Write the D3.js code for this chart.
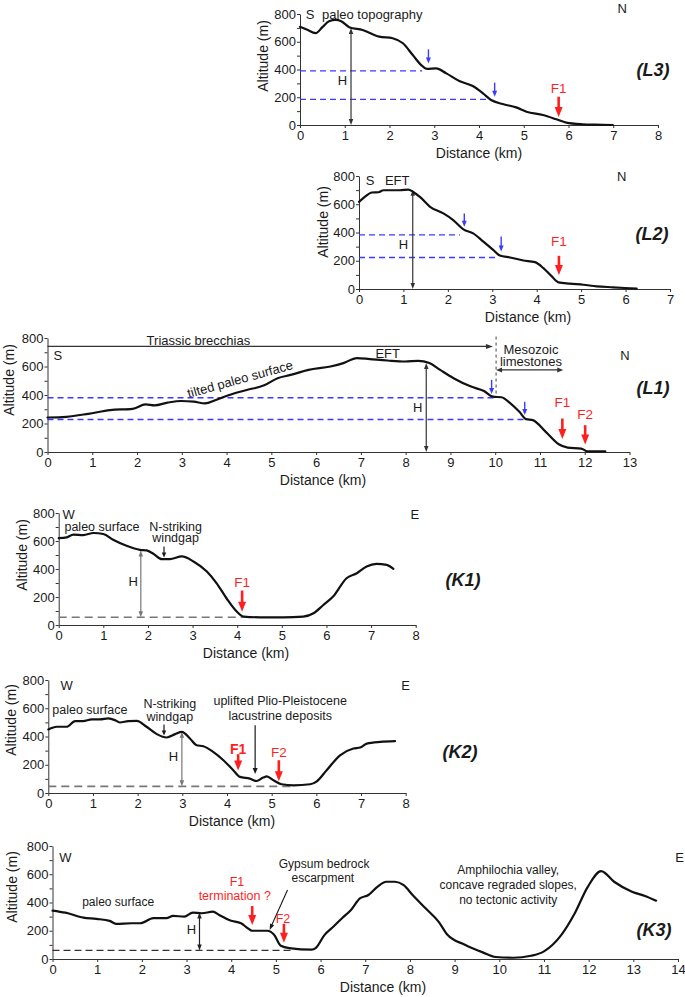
<!DOCTYPE html>
<html><head><meta charset="utf-8">
<script src="https://cdn.jsdelivr.net/npm/d3@7"></script>
<style>
body{margin:0;background:#fff}
svg{display:block}
text{font-family:"Liberation Sans",Arial,Helvetica,sans-serif}
</style>
</head><body>
<script>
// ---------------- DATA ----------------
const altTicks = [0, 200, 400, 600, 800];

const l3Dist = [0,0.15,0.35,0.5,0.65,0.8,0.92,1.1,1.4,1.77,2.07,2.3,2.52,2.71,2.84,3.04,3.27,3.56,3.86,4.09,4.27,4.53,4.83,5.06,5.43,5.73,5.95,6.32,6.6,6.99];
const l3Alt  = [708,688,662,705,748,757,748,705,685,637,625,589,504,432,404,408,372,317,281,228,180,151,127,96,72,41,17,5,2,0];

const l2Dist = [0,0.13,0.29,0.44,0.55,0.7,0.92,1.11,1.22,1.37,1.6,1.9,2.12,2.35,2.57,2.8,3.02,3.17,3.4,3.7,3.96,4.15,4.34,4.49,4.75,5.05,5.35,5.72,6.25];
const l2Alt  = [617,652,683,685,699,699,699,704,687,652,582,535,488,422,394,335,277,237,223,202,190,148,89,47,38,30,19,12,2];

const l1Dist = [0,0.42,0.91,1.4,1.9,2.19,2.39,2.68,2.98,3.27,3.52,3.76,4.06,4.45,4.84,5.14,5.43,5.83,6.32,6.61,6.91,7.2,7.59,7.99,8.28,8.53,8.77,9.07,9.46,9.75,9.95,10.14,10.34,10.54,10.69,10.84,11.13,11.42,11.62,11.92,12.06,12.46];
const l1Alt  = [242,247,268,294,303,334,327,346,358,353,341,365,400,435,468,518,541,576,600,624,659,652,642,635,640,624,576,518,459,428,388,384,341,282,231,224,141,54,31,24,5,5];

const k1Dist = [0,0.18,0.33,0.55,0.78,1.0,1.22,1.52,1.82,1.97,2.12,2.31,2.49,2.76,3.02,3.32,3.54,3.76,3.99,4.14,4.51,5.03,5.48,5.71,5.93,6.15,6.45,6.68,6.9,7.12,7.35,7.5];
const k1Alt  = [620,626,645,642,657,650,609,566,537,533,509,470,470,490,454,382,298,191,96,60,55,55,60,84,143,203,334,370,418,437,430,401];

const k2Dist = [0,0.19,0.41,0.6,0.78,0.97,1.16,1.34,1.49,1.6,1.79,1.98,2.2,2.43,2.65,2.84,2.99,3.17,3.32,3.47,3.69,3.92,4.14,4.29,4.51,4.66,4.81,4.89,5.04,5.22,5.49,5.86,6.01,6.23,6.53,6.83,6.98,7.13,7.43,7.76];
const k2Alt  = [450,469,469,509,509,521,521,528,516,499,509,511,469,417,393,417,433,386,338,331,291,232,161,114,102,85,109,118,90,62,54,62,83,161,267,315,322,350,362,367];

const k3Dist = [0,0.29,0.69,0.98,1.28,1.42,1.77,1.96,2.26,2.55,2.7,2.95,3.14,3.34,3.59,3.73,3.98,4.22,4.37,4.47,4.81,4.96,5.11,5.3,5.8,5.89,6.09,6.29,6.48,6.68,6.88,7.07,7.27,7.47,7.66,7.86,8.06,8.35,8.64,8.84,9.23,9.63,9.92,10.31,10.71,11.0,11.39,11.69,11.98,12.28,12.57,12.97,13.26,13.51];
const k3Alt  = [343,328,293,284,270,249,253,253,289,289,305,300,328,324,335,312,272,253,218,200,200,171,94,77,66,77,171,230,289,347,429,453,511,547,547,523,453,359,265,171,101,47,14,9,23,54,171,324,511,622,547,476,446,413];

// ---------------- DRAWING ----------------
const svg = d3.select("body").append("svg").attr("width",685).attr("height",997);
const INK = "#1a1a1a";
const RED = "#ff1f1f";
const BLUE = "#3b3bff";

function makePanel(p){
  const x = d3.scaleLinear().domain([0,p.xMax]).range([p.left,p.right]);
  const y = d3.scaleLinear().domain([0,800]).range([p.bottom,p.top]);
  const g = svg.append("g");
  const ax = g.append("g").attr("transform",`translate(0,${p.bottom})`)
    .call(d3.axisBottom(x).tickValues(d3.range(0,p.xMax+1)).tickFormat(d3.format("d"))
      .tickSize(3).tickSizeOuter(0).tickPadding(3));
  const ay = g.append("g").attr("transform",`translate(${p.left},0)`)
    .call(d3.axisLeft(y).tickValues(d3.range(0,801,100)).tickSize(3).tickSizeOuter(0).tickPadding(1)
      .tickFormat(d => altTicks.includes(d) ? d : ""));
  [ax,ay].forEach(a=>{
    a.selectAll("path,line").attr("stroke","#333").attr("stroke-width",1);
    a.selectAll("text").attr("font-size",13).attr("fill",INK).attr("font-family",'"Liberation Sans",Arial,sans-serif');
  });
  g.append("text").attr("x",p.xLabelX).attr("y",p.bottom+28).attr("dy","0.35em")
    .attr("text-anchor","middle").attr("font-size",14).attr("fill",INK).text("Distance (km)");
  g.append("text").attr("transform",`translate(${p.yLabelX},${p.yLabelY}) rotate(-90)`).attr("dy","0.35em")
    .attr("text-anchor","middle").attr("font-size",14).attr("fill",INK).text("Altitude (m)");
  return {g,x,y,p};
}

function drawProfile(P, dist, alt){
  const line = d3.line().x((d,i)=>P.x(dist[i])).y((d,i)=>P.y(alt[i])).curve(d3.curveMonotoneX);
  P.g.append("path").datum(dist).attr("d",line).attr("fill","none")
    .attr("stroke","#111").attr("stroke-width",2.2).attr("stroke-linejoin","round").attr("stroke-linecap","round");
}

function txt(P, xv, yv, s, o={}){
  const t = P.g.append("text").attr("x",P.x(xv)).attr("y",P.y(yv)).attr("dy","0.35em")
    .attr("text-anchor",o.anchor||"middle").attr("font-size",o.size||12.5).attr("fill",o.color||INK)
    .attr("font-weight",o.weight||"normal").attr("font-style",o.style||"normal").text(s);
  if(o.rotate!==undefined) t.attr("transform",`rotate(${o.rotate},${P.x(xv)},${P.y(yv)})`);
  return t;
}

function arrowPx(g, x1,y1,x2,y2, o={}){
  const color=o.color||INK, w=o.w||1.2, hl=o.hl||6, hw=o.hw||5, both=!!o.both;
  const dx=x2-x1, dy=y2-y1, L=Math.hypot(dx,dy), ux=dx/L, uy=dy/L;
  const sx1 = both? x1+ux*(hl-1):x1, sy1 = both? y1+uy*(hl-1):y1;
  const sx2 = x2-ux*(hl-1), sy2 = y2-uy*(hl-1);
  g.append("line").attr("x1",sx1).attr("y1",sy1).attr("x2",sx2).attr("y2",sy2)
    .attr("stroke",color).attr("stroke-width",w);
  const head=(hx,hy,vx,vy)=>{
    const bx=hx-vx*hl, by=hy-vy*hl;
    g.append("polygon").attr("points",
      `${hx},${hy} ${bx-vy*hw/2},${by+vx*hw/2} ${bx+vy*hw/2},${by-vx*hw/2}`).attr("fill",color);
  };
  head(x2,y2,ux,uy);
  if(both) head(x1,y1,-ux,-uy);
}
function arrow(P, x1,y1,x2,y2,o){ arrowPx(P.g,P.x(x1),P.y(y1),P.x(x2),P.y(y2),o); }

function hdash(P, x1, x2, yv, o={}){
  P.g.append("line").attr("x1",P.x(x1)).attr("x2",P.x(x2)).attr("y1",P.y(yv)).attr("y2",P.y(yv))
    .attr("stroke",o.color||BLUE).attr("stroke-width",o.w||1.4).attr("stroke-dasharray",o.dash||"6,4");
}
function redArrow(P, xv, y1, y2){ arrow(P,xv,y1,xv,y2,{color:RED,w:2.6,hl:10,hw:8}); }
function blueArrow(P, xv, y1, y2){ arrow(P,xv,y1,xv,y2,{color:BLUE,w:1.4,hl:6,hw:5}); }
function hArrow(P, xv, y1, y2, color){ arrow(P,xv,y2,xv,y1,{color:color||"#333",w:1.2,hl:6,hw:4.5,both:true}); }
function panelLabel(P, px, py, s){
  P.g.append("text").attr("x",px).attr("y",py).attr("dy","0.35em").attr("text-anchor","middle")
    .attr("font-size",18).attr("font-weight","bold").attr("font-style","italic").attr("fill",INK).text(s);
}

// ---- L3 ----
{
  const P = makePanel({left:300,right:658,bottom:125,top:14,xMax:8,xLabelX:479,yLabelX:263,yLabelY:56});
  hdash(P,0,2.73,390); hdash(P,0,4.2,185);
  hArrow(P,1.14,0,700);
  txt(P,0.95,318,"H",{size:13});
  drawProfile(P,l3Dist,l3Alt);
  blueArrow(P,2.87,545,444); blueArrow(P,4.35,305,204);
  redArrow(P,5.78,204,58);
  txt(P,5.78,266,"F1",{color:RED,size:13.5});
  txt(P,0.13,800,"S",{anchor:"start",size:13});
  txt(P,0.49,800,"paleo topography",{anchor:"start",size:13});
  txt(P,7.2,840,"N",{size:13});
  panelLabel(P,653,70,"(L3)");
}
// ---- L2 ----
{
  const P = makePanel({left:359,right:670,bottom:289,top:176,xMax:7,xLabelX:528,yLabelX:323,yLabelY:222});
  hdash(P,0,2.27,383); hdash(P,0,3.14,223);
  hArrow(P,1.21,0,702);
  txt(P,1.0,312,"H",{size:13});
  drawProfile(P,l2Dist,l2Alt);
  blueArrow(P,2.37,535,441); blueArrow(P,3.2,371,265);
  redArrow(P,4.5,235,100);
  txt(P,4.5,335,"F1",{color:RED,size:13.5});
  txt(P,0.25,765,"S",{size:13});
  txt(P,0.86,765,"EFT",{size:13});
  txt(P,5.91,798,"N",{size:13});
  panelLabel(P,652,234,"(L2)");
}
// ---- L1 ----
{
  const P = makePanel({left:47.5,right:629.5,bottom:452,top:338,xMax:13,xLabelX:323,yLabelX:9,yLabelY:380});
  arrow(P,0,741,9.95,741,{color:"#333",w:1.3,hl:7,hw:5});
  txt(P,3.37,784,"Triassic brecchias",{size:13});
  P.g.append("line").attr("x1",P.x(10.02)).attr("x2",P.x(10.02)).attr("y1",P.y(810)).attr("y2",P.y(400))
    .attr("stroke","#444").attr("stroke-width",1).attr("stroke-dasharray","3,3");
  txt(P,10.8,722,"Mesozoic",{size:13});
  txt(P,10.8,635,"limestones",{size:13});
  arrow(P,10.02,576,11.52,576,{color:"#333",w:1.2,hl:6,hw:5,both:true});
  hdash(P,0,10.0,381); hdash(P,0,10.69,228);
  hArrow(P,8.46,0,624);
  txt(P,8.27,313,"H",{size:13});
  drawProfile(P,l1Dist,l1Alt);
  blueArrow(P,9.92,506,407); blueArrow(P,10.66,353,259);
  redArrow(P,11.5,235,92);
  txt(P,11.5,346,"F1",{color:RED,size:13.5});
  redArrow(P,12.01,188,52);
  txt(P,12.01,266,"F2",{color:RED,size:13.5});
  txt(P,7.6,694,"EFT",{size:13});
  txt(P,0.23,678,"S",{size:13});
  txt(P,12.9,678,"N",{size:13});
  txt(P,4.3,512,"tilted paleo surface",{size:13,rotate:-15.5});
  panelLabel(P,653,388,"(L1)");
}
// ---- K1 ----
{
  const P = makePanel({left:58.7,right:415.7,bottom:625,top:513,xMax:8,xLabelX:246,yLabelX:22,yLabelY:555});
  hdash(P,0,4.14,55,{color:"#777",w:1.6,dash:"8,5"});
  hArrow(P,1.84,55,533,"#777");
  txt(P,1.67,310,"H",{size:13});
  drawProfile(P,k1Dist,k1Alt);
  arrow(P,2.36,561,2.36,483,{w:1.2,hl:5,hw:4.5});
  txt(P,0.22,788,"W",{size:13});
  txt(P,7.98,788,"E",{size:13});
  txt(P,0.97,704,"paleo surface");
  txt(P,2.62,704,"N-striking");
  txt(P,2.62,621,"windgap");
  redArrow(P,4.11,246,94);
  txt(P,4.11,303,"F1",{color:RED,size:13.5});
  panelLabel(P,463,580,"(K1)");
}
// ---- K2 ----
{
  const P = makePanel({left:48.3,right:405.7,bottom:793,top:680,xMax:8,xLabelX:232,yLabelX:11,yLabelY:720});
  hdash(P,0,5.49,47,{color:"#777",w:1.6,dash:"8,5"});
  hArrow(P,2.99,47,433,"#777");
  txt(P,2.8,256,"H",{size:13});
  drawProfile(P,k2Dist,k2Alt);
  arrow(P,2.59,485,2.59,407,{w:1.2,hl:5,hw:4.5});
  arrow(P,4.63,480,4.63,135,{w:1.2,hl:6,hw:5});
  txt(P,0.41,764,"W",{size:13});
  txt(P,8.0,764,"E",{size:13});
  txt(P,0.93,587,"paleo surface");
  txt(P,2.72,634,"N-striking");
  txt(P,2.72,544,"windgap");
  txt(P,5.19,653,"uplifted Plio-Pleistocene");
  txt(P,5.19,551,"lacustrine deposits");
  redArrow(P,4.25,275,159);
  txt(P,4.25,308,"F1",{color:RED,size:14,weight:"bold"});
  redArrow(P,5.16,232,83);
  txt(P,5.16,291,"F2",{color:RED,size:13.5});
  panelLabel(P,460,752,"(K2)");
}
// ---- K3 ----
{
  const P = makePanel({left:52.5,right:678,bottom:959,top:846,xMax:14,xLabelX:383,yLabelX:12,yLabelY:887});
  hdash(P,0,5.35,61,{color:"#333",w:1.2,dash:"7,4"});
  hArrow(P,3.29,61,330,"#222");
  txt(P,3.11,206,"H",{size:13});
  drawProfile(P,k3Dist,k3Alt);
  arrow(P,5.26,488,4.86,206,{w:1.1,hl:6,hw:4.5});
  txt(P,0.29,718,"W",{size:13});
  P.g.append("text").attr("x",684).attr("y",P.y(718)).attr("dy","0.35em").attr("text-anchor","end")
    .attr("font-size",13).attr("fill",INK).text("E");
  txt(P,1.47,406,"paleo surface",{size:12});
  txt(P,4.13,547,"F1",{color:RED,size:12.5});
  txt(P,4.08,446,"termination ?",{color:RED,size:12.5});
  redArrow(P,4.47,375,240);
  txt(P,6.08,676,"Gypsum bedrock",{size:12});
  txt(P,6.05,577,"escarpment",{size:12});
  txt(P,5.16,289,"F2",{color:RED,size:12.5});
  redArrow(P,5.18,249,115);
  txt(P,10.2,629,"Amphilochia valley,",{size:12});
  txt(P,10.2,528,"concave regraded slopes,",{size:12});
  txt(P,10.2,422,"no tectonic activity",{size:12});
  panelLabel(P,654,930,"(K3)");
}
</script>
</body></html>
